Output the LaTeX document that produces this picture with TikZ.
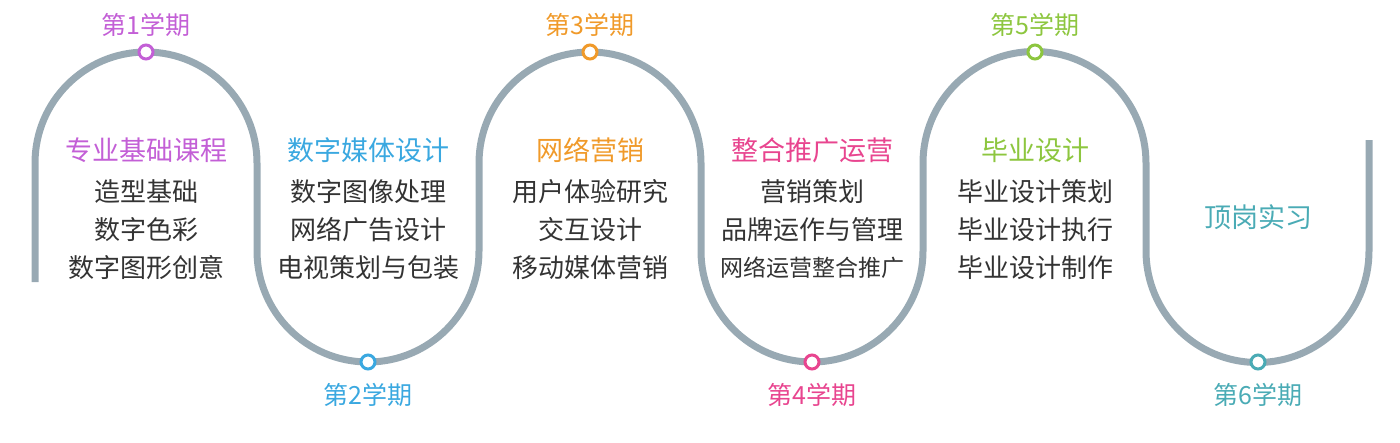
\documentclass[tikz,border=0pt]{standalone}
\usepackage{fontspec}
\newfontfamily\cjk{Noto Sans CJK SC}
\definecolor{ln}{HTML}{98A9B3}
\definecolor{cA}{HTML}{C35FD6}
\definecolor{cB}{HTML}{3AA8E0}
\definecolor{cC}{HTML}{F09A2A}
\definecolor{cD}{HTML}{E8458F}
\definecolor{cE}{HTML}{8DC63F}
\definecolor{cF}{HTML}{4AABB5}
\definecolor{tx}{HTML}{333333}
\begin{document}
\begin{tikzpicture}[x=1pt,y=-1pt,
  path/.style={draw=ln,line width=7pt},
  dot/.style={circle,draw=#1,fill=white,line width=3pt,minimum size=14pt,inner sep=0pt},
  sem/.style={text=#1,font=\cjk\fontsize{25}{30}\selectfont},
  ttl/.style={text=#1,font=\cjk\fontsize{27}{32}\selectfont},
  itm/.style={text=tx,font=\cjk\fontsize{26}{30}\selectfont}]
\useasboundingbox (0,0) rectangle (1400,442);
\draw[path] (35,282) -- (35,163) arc[start angle=180,end angle=360,radius=111]
 -- (257,251) arc[start angle=180,end angle=0,radius=111]
 -- (479,163) arc[start angle=180,end angle=360,radius=111]
 -- (701,251) arc[start angle=180,end angle=0,radius=111]
 -- (923,163) arc[start angle=180,end angle=360,radius=111.5]
 -- (1146,251) arc[start angle=180,end angle=0,radius=111.5]
 -- (1369,140);
\foreach \x/\y/\c/\n/\ly in {146/52/cA/1/25,368/362/cB/2/395,590/52/cC/3/25,812/362/cD/4/395,1035/52/cE/5/25,1258/362/cF/6/395}{
  \node[dot=\c] (d\n) at (\x,\y) {};
  \node[sem=\c] (s\n) at (\x,\ly) {第\n 学期};
}
\node[ttl=cA] (t1) at (146,150) {专业基础课程};
\node[itm] (a1) at (146,192) {造型基础};
\node[itm] (a2) at (146,230) {数字色彩};
\node[itm] (a3) at (146,268) {数字图形创意};
\node[ttl=cB] (t2) at (368,150) {数字媒体设计};
\node[itm] (b1) at (368,192) {数字图像处理};
\node[itm] (b2) at (368,230) {网络广告设计};
\node[itm] (b3) at (368,268) {电视策划与包装};
\node[ttl=cC] (t3) at (590,150) {网络营销};
\node[itm] (c1) at (590,192) {用户体验研究};
\node[itm] (c2) at (590,230) {交互设计};
\node[itm] (c3) at (590,268) {移动媒体营销};
\node[ttl=cD] (t4) at (812,150) {整合推广运营};
\node[itm] (e1) at (812,192) {营销策划};
\node[itm] (e2) at (812,230) {品牌运作与管理};
\node[itm,font=\cjk\fontsize{23}{28}\selectfont] (e3) at (812,268) {网络运营整合推广};
\node[ttl=cE] (t5) at (1035,150) {毕业设计};
\node[itm] (f1) at (1035,192) {毕业设计策划};
\node[itm] (f2) at (1035,230) {毕业设计执行};
\node[itm] (f3) at (1035,268) {毕业设计制作};
\node[ttl=cF] (t6) at (1258,217) {顶岗实习};
\end{tikzpicture}
\end{document}
